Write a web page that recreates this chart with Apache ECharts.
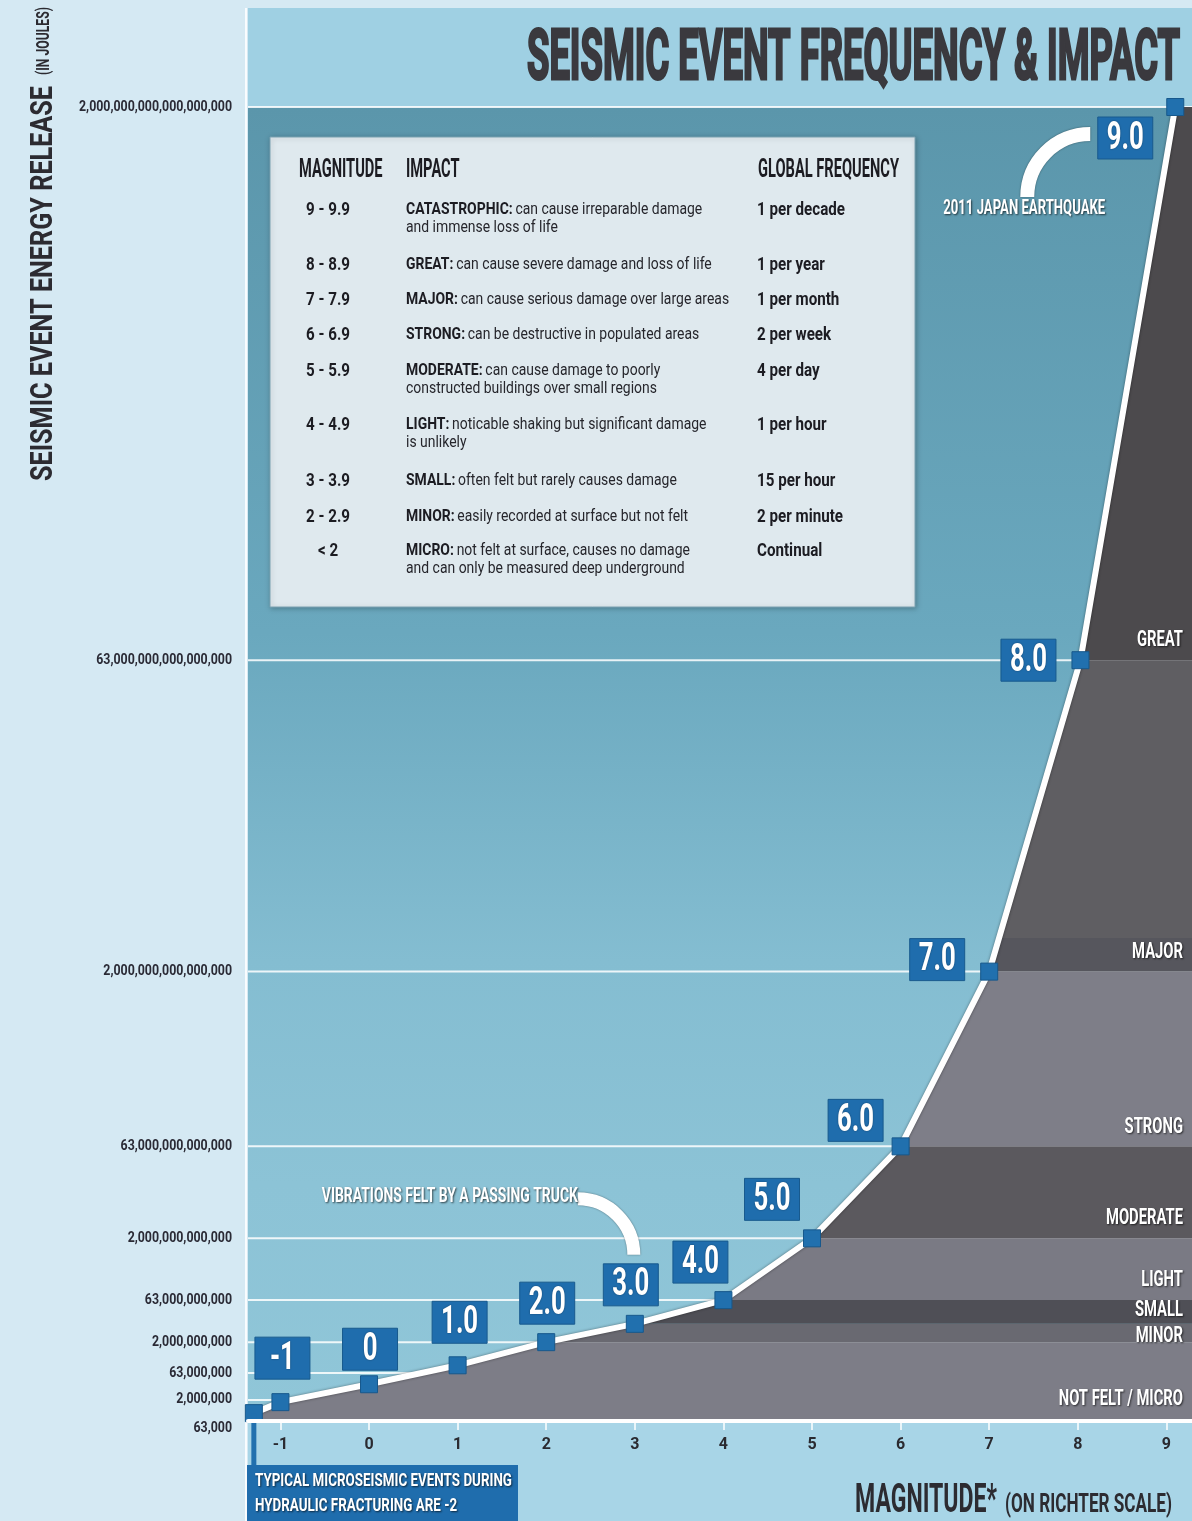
<!DOCTYPE html>
<html>
<head>
<meta charset="utf-8">
<title>Seismic Event Frequency &amp; Impact</title>
<script src="https://cdn.jsdelivr.net/npm/echarts@6/dist/echarts.min.js"></script>
<style>
  html, body { margin: 0; padding: 0; background: #d5e9f3; }
  #chart { width: 1192px; height: 1521px; }
</style>
</head>
<body>
<div id="chart"></div>
<script>
// ---------- data ----------
// Magnitude axis ticks
const magnitudeTicks = [-1, 0, 1, 2, 3, 4, 5, 6, 7, 8, 9];

// Energy axis ticks (joules) and their labels
const energyTicks = [6.3e4, 2e6, 6.3e7, 2e9, 6.3e10, 2e12, 6.3e13, 2e15, 6.3e16, 2e18];
const energyTickLabels = [
  '63,000', '2,000,000', '63,000,000', '2,000,000,000', '63,000,000,000',
  '2,000,000,000,000', '63,000,000,000,000', '2,000,000,000,000,000',
  '63,000,000,000,000,000', '2,000,000,000,000,000,000'
];

// Events along the curve: tag, magnitude position, energy (J)
const eventTags = ['-2', '-1', '0', '1.0', '2.0', '3.0', '4.0', '5.0', '6.0', '7.0', '8.0', '9.0'];
const eventMagnitude = [-1.3, -1, 0, 1, 2, 3, 4, 5, 6, 7, 8.03, 9.1];
const eventEnergy = [2.3e5, 1.4e6, 1.5e7, 1.5e8, 2e9, 9e9, 6.3e10, 2e12, 6.3e13, 2e15, 6.3e16, 2e18];

// Impact bands (energy ranges, joules)
const bandNames = ['NOT FELT / MICRO', 'MINOR', 'SMALL', 'LIGHT', 'MODERATE', 'STRONG', 'MAJOR', '', 'GREAT'];
const bandLow  = [6.3e4, 2e9, 9e9, 6.3e10, 2e12, 6.3e13, 2e15, 2.9e15, 6.3e16];
const bandHigh = [2e9, 9e9, 6.3e10, 2e12, 6.3e13, 2e15, 2.9e15, 6.3e16, 2e18];

// Reference table
const tableMagnitude = ['9 - 9.9', '8 - 8.9', '7 - 7.9', '6 - 6.9', '5 - 5.9', '4 - 4.9', '3 - 3.9', '2 - 2.9', '< 2'];
const tableImpactTitle = ['CATASTROPHIC:', 'GREAT:', 'MAJOR:', 'STRONG:', 'MODERATE:', 'LIGHT:', 'SMALL:', 'MINOR:', 'MICRO:'];
const tableImpactText = [
  ['can cause irreparable damage', 'and immense loss of life'],
  ['can cause severe damage and loss of life'],
  ['can cause serious damage over large areas'],
  ['can be destructive in populated areas'],
  ['can cause damage to poorly', 'constructed buildings over small regions'],
  ['noticable shaking but significant damage', 'is unlikely'],
  ['often felt but rarely causes damage'],
  ['easily recorded at surface but not felt'],
  ['not felt at surface, causes no damage', 'and can only be measured deep underground']
];
const tableFrequency = ['1 per decade', '1 per year', '1 per month', '2 per week', '4 per day', '1 per hour', '15 per hour', '2 per minute', 'Continual'];

// ---------- energy scale ----------
// The energy axis is stretched: each tick sits at a fixed height (0–100)
// and values between ticks are placed by log interpolation.
const energyScaleKnots = [0, 1.6, 3.65, 6.0, 9.2, 13.9, 20.9, 34.2, 57.9, 100];
const knotLogs = energyTicks.map(Math.log10);
function energyToAxis(e) {
  const l = Math.log10(e);
  if (l <= knotLogs[0]) return energyScaleKnots[0];
  for (let i = 1; i < knotLogs.length; i++) {
    if (l <= knotLogs[i]) {
      const t = (l - knotLogs[i - 1]) / (knotLogs[i] - knotLogs[i - 1]);
      return energyScaleKnots[i - 1] + t * (energyScaleKnots[i] - energyScaleKnots[i - 1]);
    }
  }
  return energyScaleKnots[energyScaleKnots.length - 1];
}

const curve = eventMagnitude.map((m, i) => [m, energyToAxis(eventEnergy[i])]);
function curveXAt(y) {
  if (y <= curve[0][1]) return curve[0][0];
  for (let i = 1; i < curve.length; i++) {
    if (y <= curve[i][1]) {
      const t = (y - curve[i - 1][1]) / (curve[i][1] - curve[i - 1][1]);
      return curve[i - 1][0] + t * (curve[i][0] - curve[i - 1][0]);
    }
  }
  return curve[curve.length - 1][0];
}

// ---------- layout & style ----------
const X_MIN = -1.366, X_MAX = 9.289;
const FONT = 'Roboto';
const INK = '#2c2b31';
const TAG_BLUE = '#1f6dad';
const bandColors = ['#7d7d87', '#696971', '#4f4f56', '#7a7a84', '#5b595e', '#7e7e88', '#56565d', '#5f5e62', '#4c4a4d'];
const bandLabelDy = [-22, -6, -13, -20, -20, -19, -19, 0, -20];
const tagOffsets = [[0, 0], [2, -44], [1, -35], [2, -43], [1, -39], [-4, -39], [-23, -38], [-40, -39], [-45, -26], [-52, -12], [-52, 0], [-50, 31]];
const tableRowY = [210, 265, 300, 335, 371, 425, 481, 517, 551];

const measureCtx = document.createElement('canvas').getContext('2d');
function textWidth(str, size, weight) {
  measureCtx.font = weight + ' ' + size + 'px ' + FONT;
  return measureCtx.measureText(str).width;
}
function squeeze(str, size, weight, target) {
  return target / textWidth(str, size, weight);
}

const titleText = 'SEISMIC EVENT FREQUENCY & IMPACT';
const titleScale = squeeze(titleText, 70, 'bold', 653);
const yTitleScale = squeeze('SEISMIC EVENT ENERGY RELEASE', 32, 'bold', 395);
const yTitleSmallScale = squeeze('(IN JOULES)', 19, 'bold', 68);
const xTitleScale = squeeze('MAGNITUDE*', 40, 'bold', 142);
const xTitleSmallScale = squeeze('(ON RICHTER SCALE)', 25, 'bold', 167);
const energyLabelScale = squeeze(energyTickLabels[9], 14, 'bold', 153);
const tagScale = squeeze('8.0', 38, 'bold', 37);
const bandLabelScale = squeeze('MODERATE', 22, 'bold', 77);
const calloutScale = squeeze('2011 JAPAN EARTHQUAKE', 20, 'bold', 162);
const truckScale = squeeze('VIBRATIONS FELT BY A PASSING TRUCK', 20, 'bold', 256);
const microScale = squeeze('TYPICAL MICROSEISMIC EVENTS DURING', 19, 'bold', 257);
const headerScale = squeeze('GLOBAL FREQUENCY', 25, 'bold', 141);
const freqScale = squeeze('1 per decade', 18, 'bold', 88);
const impactScale = 297 / (textWidth(tableImpactTitle[0] + ' ', 17, 'bold') + textWidth(tableImpactText[0][0], 17, 'normal'));

const shadowText = {
  textShadowColor: 'rgba(0,0,0,0.65)', textShadowBlur: 2,
  textShadowOffsetX: 1, textShadowOffsetY: 1
};

// ---------- static graphics (panels, title, table) ----------
const graphics = [
  { type: 'rect', z: 0, silent: true, shape: { x: 248, y: 8, width: 944, height: 99 }, style: { fill: '#9fd0e3' } },
  {
    type: 'rect', z: 0, silent: true, shape: { x: 248, y: 107, width: 944, height: 1314 },
    style: {
      fill: new echarts.graphic.LinearGradient(0, 0, 0, 1, [
        { offset: 0, color: '#5b96ab' },
        { offset: 0.4, color: '#6aa8be' },
        { offset: 0.65, color: '#84bdd1' },
        { offset: 0.82, color: '#8cc3d6' },
        { offset: 1, color: '#90c6d8' }
      ])
    }
  },
  { type: 'rect', z: 0, silent: true, shape: { x: 248, y: 1421, width: 944, height: 100 }, style: { fill: '#a8d5e7' } },
  { type: 'line', z: 1, silent: true, shape: { x1: 246, y1: 8, x2: 246, y2: 1521 }, style: { stroke: 'rgba(255,255,255,0.85)', lineWidth: 2 } },
  // title
  {
    type: 'text', z: 100, x: 1180, y: 61, scaleX: titleScale, silent: true,
    style: { text: titleText, fill: '#3a393e', stroke: '#3a393e', lineWidth: 3, fontFamily: FONT, fontWeight: 'bold', fontSize: 70, align: 'right', verticalAlign: 'middle' }
  },
  // energy axis title (rotated)
  {
    type: 'text', z: 100, x: 44, y: 481, rotation: Math.PI / 2, scaleX: yTitleScale, silent: true,
    style: { text: 'SEISMIC EVENT ENERGY RELEASE', fill: INK, fontFamily: FONT, fontWeight: 'bold', fontSize: 32, align: 'left', verticalAlign: 'middle' }
  },
  {
    type: 'text', z: 100, x: 44, y: 75, rotation: Math.PI / 2, scaleX: yTitleSmallScale, silent: true,
    style: { text: '(IN JOULES)', fill: INK, fontFamily: FONT, fontWeight: 'bold', fontSize: 19, align: 'left', verticalAlign: 'middle' }
  },
  // magnitude axis title
  {
    type: 'text', z: 100, x: 855, y: 1502, scaleX: xTitleScale, silent: true,
    style: { text: 'MAGNITUDE*', fill: INK, fontFamily: FONT, fontWeight: 'bold', fontSize: 40, align: 'left', verticalAlign: 'middle' }
  },
  {
    type: 'text', z: 100, x: 1172, y: 1506, scaleX: xTitleSmallScale, silent: true,
    style: { text: '(ON RICHTER SCALE)', fill: INK, fontFamily: FONT, fontWeight: 'bold', fontSize: 25, align: 'right', verticalAlign: 'middle' }
  },
  // table box
  {
    type: 'rect', z: 90, silent: true, shape: { x: 270, y: 137, width: 645, height: 470 },
    style: { fill: '#dfe9ee', stroke: '#7aa2b2', lineWidth: 1, shadowColor: 'rgba(0,0,0,0.25)', shadowBlur: 5, shadowOffsetX: 1, shadowOffsetY: 1 }
  }
];

const headerStyle = { fill: '#1c1c22', fontFamily: FONT, fontWeight: 'bold', fontSize: 25, align: 'left', verticalAlign: 'middle' };
[['MAGNITUDE', 299], ['IMPACT', 406], ['GLOBAL FREQUENCY', 758]].forEach(([t, x]) => {
  graphics.push({ type: 'text', z: 100, x: x, y: 171, scaleX: headerScale, silent: true, style: Object.assign({ text: t }, headerStyle) });
});

tableMagnitude.forEach((m, i) => {
  const y = tableRowY[i];
  graphics.push({
    type: 'text', z: 100, x: 328, y: y, scaleX: freqScale, silent: true,
    style: { text: m, fill: '#1c1c22', fontFamily: FONT, fontWeight: 'bold', fontSize: 18, align: 'center', verticalAlign: 'middle' }
  });
  tableImpactText[i].forEach((line, j) => {
    const text = j === 0 ? '{b|' + tableImpactTitle[i] + '} {r|' + line + '}' : '{r|' + line + '}';
    graphics.push({
      type: 'text', z: 100, x: 406, y: y + j * 18, scaleX: impactScale, silent: true,
      style: {
        text: text, align: 'left', verticalAlign: 'middle',
        rich: {
          b: { fill: '#1c1c22', fontFamily: FONT, fontWeight: 'bold', fontSize: 17 },
          r: { fill: '#26262c', fontFamily: FONT, fontWeight: 'normal', fontSize: 17 }
        }
      }
    });
  });
  graphics.push({
    type: 'text', z: 100, x: 757, y: y, scaleX: freqScale, silent: true,
    style: { text: tableFrequency[i], fill: '#1c1c22', fontFamily: FONT, fontWeight: 'bold', fontSize: 18, align: 'left', verticalAlign: 'middle' }
  });
});

// ---------- chart ----------
const chart = echarts.init(document.getElementById('chart'), null, { renderer: 'canvas' });

const option = {
  animation: false,
  backgroundColor: '#d5e9f3',
  graphic: { elements: graphics },
  grid: { left: 248, right: 0, top: 107, bottom: 100, containLabel: false },
  xAxis: {
    type: 'value', min: X_MIN, max: X_MAX, position: 'bottom', z: 10,
    axisLine: { show: true, onZero: false, lineStyle: { color: '#ffffff', width: 4 } },
    axisTick: { show: true, customValues: magnitudeTicks, length: 9, lineStyle: { color: 'rgba(255,255,255,0.75)', width: 2 } },
    axisLabel: {
      show: true, customValues: magnitudeTicks, margin: 16, color: '#2a2a30',
      fontFamily: FONT, fontWeight: 'bold', fontSize: 16, formatter: (v) => String(v)
    },
    splitLine: { show: false }
  },
  yAxis: {
    type: 'value', min: 0, max: 100,
    axisLine: { show: false }, axisTick: { show: false }, axisLabel: { show: false }, splitLine: { show: false }
  },
  series: [
    // energy gridlines with their labels
    {
      type: 'custom', name: 'energy ticks', z: 1, silent: true,
      data: energyTicks.map((e, i) => [X_MIN, energyToAxis(e), i]),
      renderItem: (params, api) => {
        const i = api.value(2);
        const y = api.value(1);
        const p0 = api.coord([X_MIN, y]);
        const p1 = api.coord([X_MAX, y]);
        const children = [{
          type: 'text', x: p0[0] - 16, y: p0[1] + (i === 0 ? 7 : 0), scaleX: energyLabelScale,
          style: { text: energyTickLabels[i], fill: '#2a2a35', fontFamily: FONT, fontWeight: 'bold', fontSize: 14, align: 'right', verticalAlign: 'middle' }
        }];
        if (i > 0) {
          children.push({
            type: 'line', shape: { x1: p0[0], y1: p0[1], x2: p1[0], y2: p1[1] },
            style: { stroke: 'rgba(255,255,255,0.85)', lineWidth: 2 }
          });
        }
        return { type: 'group', children: children };
      }
    },
    // impact bands below the curve
    {
      type: 'custom', name: 'impact bands', z: 2, silent: true,
      data: bandNames.map((n, i) => [X_MAX, energyToAxis(bandLow[i]), i]),
      renderItem: (params, api) => {
        const i = api.value(2);
        const yLo = energyToAxis(bandLow[i]);
        const yHi = energyToAxis(bandHigh[i]);
        const pts = [[X_MAX, yLo], [curveXAt(yLo), yLo]];
        curve.forEach((p) => { if (p[1] > yLo && p[1] < yHi) pts.push(p); });
        pts.push([curveXAt(yHi), yHi], [X_MAX, yHi]);
        return {
          type: 'polygon',
          shape: { points: pts.map((p) => api.coord(p)) },
          style: { fill: bandColors[i] }
        };
      }
    },
    // band names on the right
    {
      type: 'custom', name: 'band labels', z: 4, silent: true,
      data: bandNames.map((n, i) => [X_MAX, energyToAxis(bandLow[i]), i]),
      renderItem: (params, api) => {
        const i = api.value(2);
        if (!bandNames[i]) return null;
        const p = api.coord([X_MAX, api.value(1)]);
        return {
          type: 'text', x: p[0] - 9, y: p[1] + bandLabelDy[i], scaleX: bandLabelScale,
          style: Object.assign({ text: bandNames[i], fill: '#ffffff', fontFamily: FONT, fontWeight: 'bold', fontSize: 22, align: 'right', verticalAlign: 'middle' }, shadowText)
        };
      }
    },
    // energy release curve
    {
      type: 'line', name: 'energy release', z: 3, silent: true, clip: false,
      data: curve,
      lineStyle: { color: '#ffffff', width: 6, shadowColor: 'rgba(0,0,0,0.45)', shadowBlur: 3 },
      symbol: 'rect', symbolSize: 17,
      itemStyle: { color: '#2170ae', borderColor: '#17588c', borderWidth: 1 }
    },
    // magnitude tags
    {
      type: 'custom', name: 'magnitude tags', z: 6, silent: true,
      data: curve.map((p, i) => [p[0], p[1], i]),
      renderItem: (params, api) => {
        const i = api.value(2);
        const p = api.coord([api.value(0), api.value(1)]);
        const cs = params.coordSys;
        if (i === 0) {
          // callout box for the hydraulic-fracturing magnitude
          const top = cs.y + cs.height + 44;
          return {
            type: 'group', children: [
              { type: 'line', shape: { x1: p[0], y1: p[1], x2: p[0], y2: top }, style: { stroke: '#2170ae', lineWidth: 5 } },
              { type: 'rect', shape: { x: cs.x - 1, y: top, width: 271, height: 60 }, style: { fill: TAG_BLUE } },
              {
                type: 'text', x: cs.x + 7, y: top + 16, scaleX: microScale,
                style: Object.assign({ text: 'TYPICAL MICROSEISMIC EVENTS DURING', fill: '#ffffff', fontFamily: FONT, fontWeight: 'bold', fontSize: 19, align: 'left', verticalAlign: 'middle' }, shadowText)
              },
              {
                type: 'text', x: cs.x + 7, y: top + 41, scaleX: microScale,
                style: Object.assign({ text: 'HYDRAULIC FRACTURING ARE ' + eventTags[0], fill: '#ffffff', fontFamily: FONT, fontWeight: 'bold', fontSize: 19, align: 'left', verticalAlign: 'middle' }, shadowText)
              }
            ]
          };
        }
        const cx = p[0] + tagOffsets[i][0];
        const cy = p[1] + tagOffsets[i][1];
        return {
          type: 'group', children: [
            { type: 'rect', shape: { x: cx - 27.5, y: cy - 21, width: 55, height: 42 }, style: { fill: TAG_BLUE, stroke: '#185a8e', lineWidth: 1 } },
            {
              type: 'text', x: cx, y: cy + 1, scaleX: tagScale,
              style: { text: eventTags[i], fill: '#ffffff', fontFamily: FONT, fontWeight: 'bold', fontSize: 38, align: 'center', verticalAlign: 'middle', textShadowColor: 'rgba(0,0,0,0.4)', textShadowBlur: 2 }
            }
          ]
        };
      }
    },
    // notes pointing at notable events
    {
      type: 'custom', name: 'notes', z: 7, silent: true,
      data: [[curve[11][0], curve[11][1], 0], [curve[5][0], curve[5][1], 1]],
      renderItem: (params, api) => {
        const k = api.value(2);
        const p = api.coord([api.value(0), api.value(1)]);
        if (k === 0) {
          return {
            type: 'group', children: [
              { type: 'arc', shape: { cx: p[0] - 85, cy: p[1] + 90, r: 63, startAngle: Math.PI, endAngle: Math.PI * 1.5, clockwise: true }, style: { stroke: '#ffffff', fill: 'none', lineWidth: 14, shadowColor: 'rgba(0,0,0,0.45)', shadowBlur: 2 } },
              {
                type: 'text', x: p[0] - 151, y: p[1] + 102, scaleX: calloutScale,
                style: Object.assign({ text: '2011 JAPAN EARTHQUAKE', fill: '#ffffff', fontFamily: FONT, fontWeight: 'bold', fontSize: 20, align: 'center', verticalAlign: 'middle' }, shadowText)
              }
            ]
          };
        }
        return {
          type: 'group', children: [
            { type: 'arc', shape: { cx: p[0] - 57, cy: p[1] - 69, r: 56, startAngle: Math.PI * 1.5, endAngle: Math.PI * 2, clockwise: true }, style: { stroke: '#ffffff', fill: 'none', lineWidth: 13, shadowColor: 'rgba(0,0,0,0.45)', shadowBlur: 2 } },
            {
              type: 'text', x: p[0] - 57, y: p[1] - 127, scaleX: truckScale,
              style: Object.assign({ text: 'VIBRATIONS FELT BY A PASSING TRUCK', fill: '#ffffff', fontFamily: FONT, fontWeight: 'bold', fontSize: 20, align: 'right', verticalAlign: 'middle' }, shadowText)
            }
          ]
        };
      }
    }
  ]
};

chart.setOption(option);
</script>
</body>
</html>
